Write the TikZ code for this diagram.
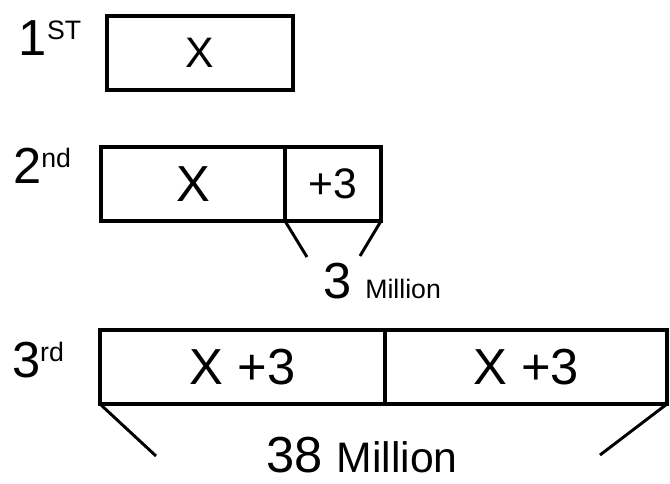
\documentclass[tikz,border=0pt]{standalone}
\usepackage{fontspec}
\setmainfont{Liberation Sans}
\tikzset{every picture/.style={line width=0.75pt}}
\tikzset{
  bar/.style={draw, line width=2.4pt, rectangle, inner sep=0pt, outer sep=0pt, anchor=north west, minimum height=55.5pt},
  legline/.style={line width=2.2pt},
}
\newcommand{\bigtxt}{\fontsize{38}{38}\selectfont}
\newcommand{\midtxt}{\fontsize{32}{32}\selectfont}
\newcommand{\smalltxt}{\fontsize{20}{20}\selectfont}

\begin{document}
\begin{tikzpicture}[x=0.75pt,y=0.75pt,yscale=-1,xscale=1]
\useasboundingbox (0,0) rectangle (670,484);

%Shape: Rectangle [id:first]
\node [bar, minimum width=139.5pt] (first) at (107,16) {\midtxt X};
%Shape: Rectangle [id:secondx]
\node [bar, minimum width=138pt] (secondx) at (101,147) {\bigtxt X};
%Shape: Rectangle [id:secondplus]
\node [bar, minimum width=72pt] (secondplus) at (secondx.north east) {\midtxt +3};
%Shape: Rectangle [id:thirda]
\node [bar, minimum width=213.75pt] (thirda) at (100,330) {\bigtxt X +3};
%Shape: Rectangle [id:thirdb]
\node [bar, minimum width=211.5pt] (thirdb) at (thirda.north east) {\bigtxt X +3};

%Straight Lines [id:twolegs]
\coordinate (twoL) at (307,257);
\coordinate (twoR) at (360,256);
\draw [legline] (secondplus.south west) -- (twoL);
\draw [legline] (secondplus.south east) -- (twoR);
%Straight Lines [id:threelegs]
\coordinate (threeL) at (156,456);
\coordinate (threeR) at (600,455);
\draw [legline] (thirda.south west) -- (threeL);
\draw [legline] (thirdb.south east) -- (threeR);

% Text Node
\node (lblfirst) at (50,38) {\bigtxt 1\raisebox{12pt}{\smalltxt ST}};
% Text Node
\node (lblsecond) at (42,166) {\bigtxt 2\raisebox{12pt}{\smalltxt nd}};
% Text Node
\node (lblthird) at (38,360) {\bigtxt 3\raisebox{12pt}{\smalltxt rd}};
% Text Node
\node (threemil) at (382,281) {\bigtxt 3 \smalltxt Million};
% Text Node
\node (totalmil) at (362,455) {\bigtxt 38 \midtxt Million};

\end{tikzpicture}
\end{document}
